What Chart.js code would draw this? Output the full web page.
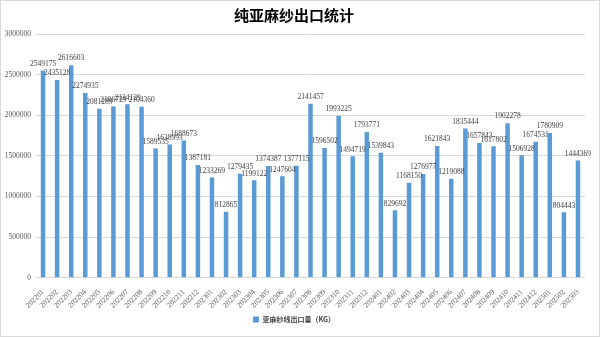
<!DOCTYPE html>
<html>
<head>
<meta charset="utf-8">
<script src="https://cdn.jsdelivr.net/npm/chart.js@4.4.1/dist/chart.umd.min.js"></script>
<style>
  html, body { margin: 0; padding: 0; background: #fff; }
  #wrap { width: 600px; height: 337px; }
</style>
</head>
<body>
<div id="wrap"><canvas id="yarnChart" width="600" height="337"></canvas></div>
<script>
// monthly export volume of pure linen yarn, 2022-01 .. 2025-03
const months = [
  '202201', '202202', '202203', '202204', '202205', '202206', '202207', '202208', '202209', '202210', '202211', '202212',
  '202301', '202302', '202303', '202304', '202305', '202306', '202307', '202308', '202309', '202310', '202311', '202312',
  '202401', '202402', '202403', '202404', '202405', '202406', '202407', '202408', '202409', '202410', '202411', '202412',
  '202501', '202502', '202503'
];
const exportKg = [
  2549175, 2435128, 2616603, 2274935, 2081289, 2106729, 2134129, 2104360, 1589535, 1638993, 1688673, 1387181,
  1233269, 812865, 1279435, 1199122, 1374387, 1247604, 1377115, 2141457, 1596502, 1993225, 1494719, 1793771,
  1539843, 829692, 1168150, 1276977, 1621843, 1219088, 1835444, 1657843, 1617802, 1902278, 1506928, 1674531,
  1780909, 804443, 1444369
];
const yMin = 0;
const yMax = 3000000;
const yStep = 500000;

const serif = '"Liberation Serif", "DejaVu Serif", serif';
const cjk = '"Noto Sans CJK SC", "Noto Sans", sans-serif';

// white background + thin grey frame around the whole chart
const framePlugin = {
  id: 'frame',
  beforeDraw(chart) {
    const c = chart.ctx;
    c.save();
    c.fillStyle = '#ffffff';
    c.fillRect(0, 0, chart.width, chart.height);
    c.strokeStyle = '#d9d9d9';
    c.lineWidth = 1;
    c.strokeRect(0.5, 0.5, chart.width - 1, chart.height - 1);
    c.restore();
  }
};

// value printed above every bar
const valueLabels = {
  id: 'valueLabels',
  afterDatasetsDraw(chart) {
    const c = chart.ctx;
    const meta = chart.getDatasetMeta(0);
    const values = chart.data.datasets[0].data;
    c.save();
    c.font = '7.5px ' + serif;
    c.fillStyle = '#404040';
    c.textAlign = 'center';
    c.textBaseline = 'bottom';
    meta.data.forEach((bar, i) => {
      c.fillText(String(values[i]), bar.x, bar.y - 3);
    });
    c.restore();
  }
};

const ctx = document.getElementById('yarnChart').getContext('2d');
const yarnChart = new Chart(ctx, {
  type: 'bar',
  data: {
    labels: months,
    datasets: [{
      label: '亚麻纱线出口量（KG）',
      data: exportKg,
      backgroundColor: '#5b9bd5',
      borderWidth: 0,
      barPercentage: 0.32,
      categoryPercentage: 1
    }]
  },
  options: {
    responsive: false,
    animation: false,
    layout: {
      padding: { left: 3, right: 15, top: 0, bottom: 4 }
    },
    scales: {
      x: {
        grid: { display: false },
        border: { display: false },
        ticks: {
          minRotation: 45,
          maxRotation: 45,
          autoSkip: false,
          color: '#595959',
          font: { family: serif, size: 7.5 },
          padding: 2
        }
      },
      y: {
        min: yMin,
        max: yMax,
        afterFit(scale) { scale.width = 33; },
        grid: { color: '#d9d9d9', lineWidth: 1, drawTicks: false },
        border: { display: false },
        ticks: {
          stepSize: yStep,
          color: '#595959',
          font: { family: serif, size: 7.5 },
          padding: 5,
          callback: value => String(value)
        }
      }
    },
    plugins: {
      title: {
        display: true,
        text: '纯亚麻纱出口统计',
        color: '#000000',
        font: { family: cjk, size: 15, weight: 'bold' },
        padding: { top: 6, bottom: 10 }
      },
      legend: {
        position: 'bottom',
        labels: {
          boxWidth: 6,
          boxHeight: 6,
          color: '#404040',
          font: { family: cjk, size: 7, weight: 'bold' },
          padding: 4
        }
      },
      tooltip: { enabled: false }
    }
  },
  plugins: [framePlugin, valueLabels]
});
</script>
</body>
</html>
